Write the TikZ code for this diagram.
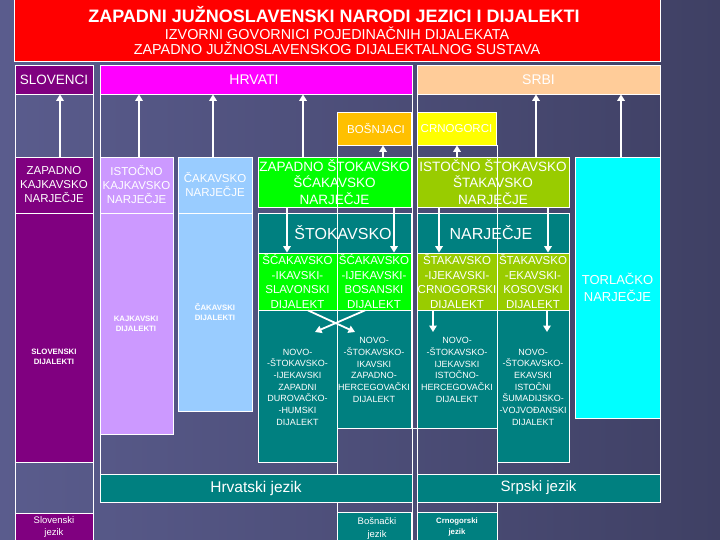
\documentclass[tikz,border=0pt]{standalone}
\usepackage{fontspec}
\setmainfont{Liberation Sans}
\usetikzlibrary{fit,arrows.meta}
\definecolor{cRed}{HTML}{FF0000}
\definecolor{cPur}{HTML}{800080}
\definecolor{cMag}{HTML}{FF00FF}
\definecolor{cPeach}{HTML}{FFCC99}
\definecolor{cGold}{HTML}{FFC000}
\definecolor{cYel}{HTML}{FFFF00}
\definecolor{cLPur}{HTML}{CC99FF}
\definecolor{cLBlue}{HTML}{99CCFF}
\definecolor{cGreen}{HTML}{00FF00}
\definecolor{cOlive}{HTML}{99CC00}
\definecolor{cTeal}{HTML}{008080}
\definecolor{cCyan}{HTML}{00FFFF}
\definecolor{bgA}{HTML}{5A5C8D}
\definecolor{bgD}{HTML}{3F4064}
\tikzset{
  bx/.style={draw=white, line width=0.8pt, inner sep=0pt},
  tx/.style={text=white, align=center, inner sep=0pt},
  gridln/.style={draw=white, line width=0.8pt},
  arr/.style={draw=white, line width=1.8pt, -{Triangle[width=7.5pt,length=6.5pt]}},
}
\newcommand{\bxx}[6]{\node[bx, fill=#6, fit={(#2,#3) (#4,#5)}] (#1) {};}
\begin{document}
\begin{tikzpicture}[x=1pt,y=-1pt]
\useasboundingbox (0,0) rectangle (720,540);
\shade[left color=bgA, right color=bgD] (0,0) rectangle (720,540);

% title
\bxx{title}{14}{-1}{660}{61}{cRed}
% people
\bxx{slo}{15}{65}{93}{94}{cPur}
\bxx{hrv}{100}{65}{412}{94}{cMag}
\bxx{srb}{417}{65}{660}{94}{cPeach}
\bxx{bos}{337}{112}{411}{145}{cGold}
\bxx{crn}{417}{112}{496}{145}{cYel}
% frames
\draw[gridln] (15,94) rectangle (93,540);
\draw[gridln] (100,94) rectangle (412,474);
\draw[gridln] (417,94) rectangle (660,474);
\draw[gridln] (337,502) rectangle (412,540);
\draw[gridln] (417,502) rectangle (497,540);
% narjecja
\bxx{zk}{15}{157}{93}{213}{cPur}
\bxx{ik}{100}{157}{173}{213}{cLPur}
\bxx{cak}{178}{157}{252}{213}{cLBlue}
\bxx{zs}{258}{157}{411}{207}{cGreen}
\bxx{is}{417}{157}{569}{207}{cOlive}
\bxx{tor}{575}{157}{660}{418}{cCyan}
% dijalekti columns
\bxx{sd}{15}{213}{93}{462}{cPur}
\bxx{kd}{100}{213}{173}{434}{cLPur}
\bxx{cd}{178}{213}{252}{411}{cLBlue}
\bxx{st1}{258}{213}{411}{253}{cTeal}
\bxx{st2}{417}{213}{569}{253}{cTeal}
\bxx{d1}{258}{253}{337}{310}{cGreen}
\bxx{d2}{337}{253}{411}{310}{cGreen}
\bxx{d3}{417}{253}{497}{310}{cOlive}
\bxx{d4}{497}{253}{569}{310}{cOlive}
\bxx{n1}{258}{310}{337}{462}{cTeal}
\bxx{n2}{337}{310}{411}{428}{cTeal}
\bxx{n3}{417}{310}{497}{428}{cTeal}
\bxx{n4}{497}{310}{569}{462}{cTeal}
% languages
\bxx{hj}{100}{474}{412}{502}{cTeal}
\bxx{sj}{417}{474}{660}{502}{cTeal}
\bxx{slj}{15}{513}{93}{541}{cPur}
\bxx{bj}{337}{512}{411}{541}{cTeal}
\bxx{cj}{417}{512}{497}{541}{cTeal}
% inner grid lines
\draw[gridln] (337,145) -- (337,474);
\draw[gridln] (497,145) -- (497,474);
\draw[gridln] (337,428) -- (497,428);

% arrow x positions
\foreach \n/\x in {a1/60,a2/139,a3/213,a4/303,a5/383,a6/457,a7/536,a8/621,b1/287,b2/394,b3/439,b4/548,e1/308,e2/365,e3/433,e4/547}
  \coordinate (\n) at (\x,0);
\coordinate (c1) at (355,332);
\coordinate (c2) at (315,332);
\coordinate (c3) at (433,332);
\coordinate (c4) at (547,332);
% up arrows
\draw[arr] (zk.north -| a1) -- (slo.south -| a1);
\draw[arr] (ik.north -| a2) -- (hrv.south -| a2);
\draw[arr] (cak.north -| a3) -- (hrv.south -| a3);
\draw[arr] (zs.north -| a4) -- (hrv.south -| a4);
\draw[arr] (zs.north -| a5) -- (bos.south -| a5);
\draw[arr] (is.north -| a6) -- (crn.south -| a6);
\draw[arr] (is.north -| a7) -- (srb.south -| a7);
\draw[arr] (tor.north -| a8) -- (srb.south -| a8);
% down arrows
\draw[arr] (zs.south -| b1) -- (d1.north -| b1);
\draw[arr] (zs.south -| b2) -- (d2.north -| b2);
\draw[arr] (is.south -| b3) -- (d3.north -| b3);
\draw[arr] (is.south -| b4) -- (d4.north -| b4);
\draw[arr] (d1.south -| e1) -- (c1);
\draw[arr] (d2.south -| e2) -- (c2);
\draw[arr] (d3.south -| e3) -- (c3);
\draw[arr] (d4.south -| e4) -- (c4);

% texts
\node[tx, font=\bfseries\fontsize{18}{20}\selectfont] (t0) at (334,14.5) {ZAPADNI JUŽNOSLAVENSKI NARODI JEZICI I DIJALEKTI};
\node[tx, font=\fontsize{14.4}{16}\selectfont] (t1) at (337,33.5) {IZVORNI GOVORNICI POJEDINAČNIH DIJALEKATA};
\node[tx, font=\fontsize{14.4}{16}\selectfont] (t2) at (337,48) {ZAPADNO JUŽNOSLAVENSKOG DIJALEKTALNOG SUSTAVA};

\node[tx, font=\fontsize{13.5}{16}\selectfont] (tslo) at (slo.center) {SLOVENCI};
\node[tx, font=\fontsize{14}{16}\selectfont] (thrv) at (254,79.5) {HRVATI};
\node[tx, font=\fontsize{14}{16}\selectfont] (tsrb) at (srb.center) {SRBI};
\node[tx, font=\fontsize{11.5}{14}\selectfont] (tbos) at (376,128.5) {BOŠNJACI};
\node[tx, font=\fontsize{11.5}{14}\selectfont] (tcrn) at (crn.center) {CRNOGORCI};

\node[tx, font=\fontsize{11.5}{14}\selectfont] (tzk) at (zk.center) {ZAPADNO\\KAJKAVSKO\\NARJEČJE};
\node[tx, font=\fontsize{11.5}{14}\selectfont] (tik) at (ik.center) {ISTOČNO\\KAJKAVSKO\\NARJEČJE};
\node[tx, font=\fontsize{11.5}{14}\selectfont] (tcak) at (cak.center) {ČAKAVSKO\\NARJEČJE};
\node[tx, font=\fontsize{13.5}{16.5}\selectfont] (tzs) at (zs.center) {ZAPADNO ŠTOKAVSKO\\ŠĆAKAVSKO\\NARJEČJE};
\node[tx, font=\fontsize{13.5}{16.5}\selectfont] (tis) at (is.center) {ISTOČNO ŠTOKAVSKO\\ŠTAKAVSKO\\NARJEČJE};
\node[tx, font=\fontsize{13}{17}\selectfont] (ttor) at (tor.center) {TORLAČKO\\NARJEČJE};
\node[tx, font=\fontsize{16}{18}\selectfont] (tst1) at (343,233) {ŠTOKAVSKO};
\node[tx, font=\fontsize{16}{18}\selectfont] (tst2) at (491,233) {NARJEČJE};

\node[tx, font=\fontsize{11.5}{14.6}\selectfont] (td1) at (d1.center) {ŠĆAKAVSKO\\-IKAVSKI-\\SLAVONSKI\\DIJALEKT};
\node[tx, font=\fontsize{11.5}{14.6}\selectfont] (td2) at (d2.center) {ŠĆAKAVSKO\\-IJEKAVSKI-\\BOSANSKI\\DIJALEKT};
\node[tx, font=\fontsize{11.5}{14.6}\selectfont] (td3) at (d3.center) {ŠTAKAVSKO\\-IJEKAVSKI-\\CRNOGORSKI\\DIJALEKT};
\node[tx, font=\fontsize{11.5}{14.6}\selectfont] (td4) at (d4.center) {ŠTAKAVSKO\\-EKAVSKI-\\KOSOVSKI\\DIJALEKT};

\node[tx, font=\fontsize{9}{11.7}\selectfont] (tn1) at (297.5,387) {NOVO-\\-ŠTOKAVSKO-\\-IJEKAVSKI\\ZAPADNI\\DUROVAČKO-\\-HUMSKI\\DIJALEKT};
\node[tx, font=\fontsize{9}{11.7}\selectfont] (tn2) at (374,370) {NOVO-\\-ŠTOKAVSKO-\\IKAVSKI\\ZAPADNO-\\HERCEGOVAČKI\\DIJALEKT};
\node[tx, font=\fontsize{9}{11.7}\selectfont] (tn3) at (457,370) {NOVO-\\-ŠTOKAVSKO-\\IJEKAVSKI\\ISTOČNO-\\HERCEGOVAČKI\\DIJALEKT};
\node[tx, font=\fontsize{9}{11.7}\selectfont] (tn4) at (533,387) {NOVO-\\-ŠTOKAVSKO-\\EKAVSKI\\ISTOČNI\\ŠUMADIJSKO-\\-VOJVOĐANSKI\\DIJALEKT};

\node[tx, font=\bfseries\fontsize{7.8}{10}\selectfont] (tsd) at (54,357) {SLOVENSKI\\DIJALEKTI};
\node[tx, font=\bfseries\fontsize{7.8}{10}\selectfont] (tkd) at (136,324) {KAJKAVSKI\\DIJALEKTI};
\node[tx, font=\bfseries\fontsize{7.8}{10}\selectfont] (tcd) at (215,312.5) {ČAKAVSKI\\DIJALEKTI};

\node[tx, font=\fontsize{15.5}{18}\selectfont] (thj) at (hj.center) {Hrvatski jezik};
\node[tx, font=\fontsize{15}{18}\selectfont] (tsj) at (sj.center) {Srpski jezik};
\node[tx, font=\fontsize{9.5}{12}\selectfont] (tslj) at (54,527) {Slovenski\\jezik};
\node[tx, font=\fontsize{9.5}{13}\selectfont] (tbj) at (377,529) {Bošnački\\jezik};
\node[tx, font=\bfseries\fontsize{7.8}{11}\selectfont] (tcj) at (457,526.5) {Crnogorski\\jezik};
\end{tikzpicture}
\end{document}
